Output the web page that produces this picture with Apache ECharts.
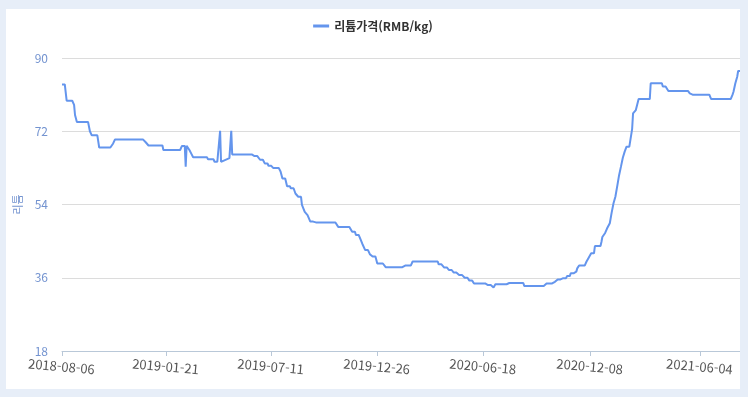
<!DOCTYPE html>
<html lang="ko">
<head>
<meta charset="UTF-8" />
<title>리튬가격</title>
<script src="https://cdn.jsdelivr.net/npm/echarts@6/dist/echarts.min.js"></script>
<style>
  html, body { margin: 0; padding: 0; background: #e7eef8; }
  #chart { position: absolute; left: 6px; top: 9px; width: 734px; height: 380px; background: #fff; }
</style>
</head>
<body>
<div id="chart"></div>
<script>
  // x axis: trading days, labels only on these dates
  const tickDates = ["2018-08-06", "2019-01-21", "2019-07-11", "2019-12-26", "2020-06-18", "2020-12-08", "2021-06-04"];
  const firstDay = "2018-08-06";
  const lastDay = "2021-08-05";
  const holidays = [
    "2018-09-24", "2018-10-01", "2018-10-02", "2018-10-03", "2018-10-04", "2018-10-05", "2018-12-31",
    "2019-01-01", "2019-02-04", "2019-02-05", "2019-02-06", "2019-02-07", "2019-02-08", "2019-04-05",
    "2019-05-01", "2019-05-02", "2019-05-03", "2019-06-07", "2019-09-13", "2019-10-01", "2019-10-02",
    "2019-10-03", "2019-10-04", "2019-10-07",
    "2020-01-01", "2020-01-24", "2020-01-27", "2020-01-28", "2020-01-29", "2020-01-30", "2020-01-31",
    "2020-04-06", "2020-05-01", "2020-05-04", "2020-05-05", "2020-06-25", "2020-06-26", "2020-10-01",
    "2020-10-02", "2020-10-05", "2020-10-06", "2020-10-07", "2020-10-08",
    "2021-01-01", "2021-02-11", "2021-02-12", "2021-02-15", "2021-02-16", "2021-02-17", "2021-04-05",
    "2021-05-03", "2021-05-04", "2021-05-05", "2021-06-14"
  ];

  // price changes (RMB/kg); the price holds until the next change
  const priceDates = [
    "2018-08-06", "2018-08-13", "2018-08-23", "2018-08-24", "2018-08-28", "2018-09-17", "2018-09-19",
    "2018-10-09", "2018-10-30", "2018-11-01", "2018-12-18", "2018-12-21", "2019-01-16", "2019-02-20",
    "2019-02-26", "2019-02-27", "2019-03-04", "2019-03-06", "2019-03-08", "2019-04-01", "2019-04-11",
    "2019-04-19", "2019-04-22", "2019-04-25", "2019-04-30", "2019-05-08", "2019-05-10", "2019-05-13",
    "2019-06-14", "2019-06-25", "2019-07-02", "2019-07-08", "2019-07-15", "2019-07-25", "2019-07-29",
    "2019-08-05", "2019-08-09", "2019-08-16", "2019-08-21", "2019-08-27", "2019-08-30", "2019-09-04",
    "2019-09-09", "2019-09-17", "2019-10-29", "2019-11-19", "2019-11-25", "2019-11-29", "2019-12-04",
    "2019-12-09", "2019-12-16", "2019-12-19", "2019-12-26", "2020-01-09", "2020-02-13", "2020-02-27",
    "2020-04-08", "2020-04-16", "2020-04-23", "2020-04-30", "2020-05-13", "2020-05-21", "2020-05-28",
    "2020-06-04", "2020-06-23", "2020-07-07", "2020-07-09", "2020-07-30", "2020-08-21", "2020-09-24",
    "2020-10-13", "2020-10-20", "2020-10-28", "2020-11-03", "2020-11-09", "2020-11-16", "2020-11-18",
    "2020-11-20", "2020-12-02", "2020-12-04", "2020-12-09", "2020-12-15", "2020-12-24", "2020-12-25",
    "2020-12-30", "2021-01-04", "2021-01-07", "2021-01-11", "2021-01-13", "2021-01-15", "2021-01-19",
    "2021-01-21", "2021-01-25", "2021-01-27", "2021-01-29", "2021-02-02", "2021-02-10", "2021-02-18",
    "2021-02-23", "2021-02-26", "2021-03-17", "2021-04-06", "2021-04-14", "2021-05-20", "2021-05-25",
    "2021-06-23", "2021-07-26", "2021-07-27", "2021-07-29", "2021-08-02", "2021-08-03"
  ];
  const priceValues = [
    83.5, 79.5, 78.5, 76.0, 74.3, 72.0, 71.0,
    68.0, 69.0, 70.0, 69.3, 68.5, 67.4, 68.4,
    63.3, 68.4, 67.4, 66.5, 65.6, 65.1, 64.5,
    72.1, 64.5, 64.8, 65.1, 65.4, 72.1, 66.3,
    65.9, 65.0, 64.1, 63.5, 63.0, 62.1, 60.4,
    58.5, 58.0, 56.7, 55.9, 53.9, 52.2, 51.4,
    49.8, 49.6, 48.5, 47.3, 46.5, 46.0, 44.3,
    42.8, 41.8, 41.2, 39.5, 38.6, 39.0, 40.0,
    39.3, 38.5, 37.9, 37.3, 36.7, 36.0, 35.3,
    34.6, 34.2, 33.6, 34.4, 34.7, 34.0, 34.6,
    35.0, 35.6, 35.9, 36.4, 37.1, 37.5, 38.3,
    39.0, 40.0, 40.8, 42.0, 43.8, 44.8, 46.0,
    47.0, 48.1, 49.4, 52.0, 54.3, 55.9, 58.5,
    61.2, 63.3, 65.5, 67.0, 68.2, 72.5, 76.4,
    77.2, 79.9, 83.8, 83.0, 81.9, 81.3, 81.0,
    79.9, 81.0, 81.7, 83.8, 85.4, 86.8
  ];

  const fmt = (t) => new Date(t).toISOString().slice(0, 10);
  const days = [];
  for (let t = Date.parse(firstDay); t <= Date.parse(lastDay); t += 86400000) {
    const wd = new Date(t).getUTCDay();
    const s = fmt(t);
    if (wd === 0 || wd === 6 || holidays.includes(s)) continue;
    days.push(s);
  }
  const prices = [];
  let k = -1;
  days.forEach((d) => {
    while (k + 1 < priceDates.length && priceDates[k + 1] <= d) k++;
    prices.push(priceValues[k]);
  });

  const showTick = (i, v) => tickDates.includes(v);
  const font = "'Noto Sans CJK KR', 'Noto Sans', sans-serif";

  const chart = echarts.init(document.getElementById("chart"));
  chart.setOption({
    animation: false,
    textStyle: { fontFamily: font },
    legend: {
      top: 6,
      left: "center",
      icon: "rect",
      itemWidth: 16,
      itemHeight: 3,
      itemGap: 6,
      textStyle: { fontSize: 12, fontWeight: "bold", color: "#333", fontFamily: font },
    },
    grid: { left: 56, right: 0, top: 49, bottom: 38, outerBoundsMode: "none" },
    xAxis: {
      type: "category",
      boundaryGap: false,
      data: days,
      axisLine: { lineStyle: { color: "#b9c8d8" } },
      axisTick: { interval: showTick, lineStyle: { color: "#b9c8d8" } },
      axisLabel: {
        interval: showTick,
        rotate: -5,
        align: "center",
        verticalAlign: "top",
        margin: 9,
        color: "#555",
        fontSize: 13,
        fontFamily: font,
      },
    },
    yAxis: {
      type: "value",
      min: 18,
      max: 90,
      interval: 18,
      name: "리튬",
      nameLocation: "middle",
      nameGap: 38,
      nameTextStyle: { color: "#7393d0", fontSize: 11, fontFamily: font },
      axisLabel: { color: "#7393d0", fontSize: 12, margin: 14, fontFamily: font },
      splitLine: { lineStyle: { color: "#dcdcdc" } },
    },
    series: [
      {
        name: "리튬가격(RMB/kg)",
        type: "line",
        data: prices,
        symbol: "none",
        color: "#6495ed",
        lineStyle: { width: 2, color: "#6495ed" },
      },
    ],
  });
</script>
</body>
</html>
